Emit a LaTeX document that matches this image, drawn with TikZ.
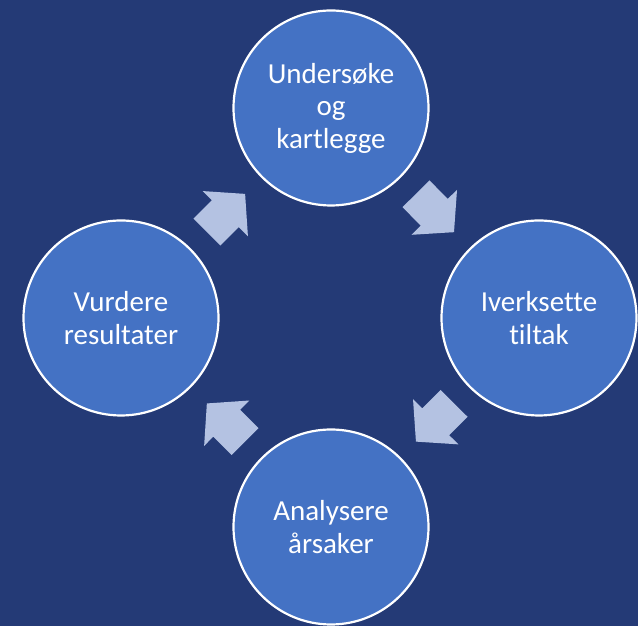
\documentclass[tikz,border=0pt]{standalone}
\usepackage{fontspec}
\setmainfont{Carlito}[Ligatures=NoCommon]
\usetikzlibrary{positioning}

\definecolor{bgblue}{RGB}{36,58,118}
\definecolor{stepblue}{RGB}{68,114,196}
\definecolor{arrowblue}{RGB}{180,194,226}

\tikzset{
  cyclearrow/.pic={
    \fill[arrowblue] (-27,-19) -- (-1,-19) -- (-1,-32) -- (27,0) -- (-1,32) -- (-1,19) -- (-27,19) -- cycle;
  }
}

\begin{document}
\begin{tikzpicture}[
    x=1pt, y=1pt,
    stepcircle/.style={circle, draw=white, line width=2.2pt, fill=stepblue, minimum size=195pt,
      inner sep=0pt, text=white, align=center, font=\fontsize{29}{32.5}\selectfont}
  ]
  % background
  \fill[bgblue] (0,0) rectangle (638,626);
  \useasboundingbox (0,0) rectangle (638,626);

  % the four steps
  \node[stepcircle] (undersoke) at (331,518) {Undersøke\\og\\kartlegge};
  \node[stepcircle] (iverksette) at (539,308) {Iverksette\\tiltak};
  \node[stepcircle] (analysere) at (331,99) {Analysere\\årsaker};
  \node[stepcircle] (vurdere) at (121,308) {Vurdere\\resultater};

  % arrows between the steps
  \path (undersoke.center) -- (iverksette.center) pic[midway, sloped, allow upside down] {cyclearrow};
  \path (iverksette.center) -- (analysere.center) pic[midway, sloped, allow upside down] {cyclearrow};
  \path (analysere.center) -- (vurdere.center) pic[midway, sloped, allow upside down] {cyclearrow};
  \path (vurdere.center) -- (undersoke.center) pic[midway, sloped, allow upside down] {cyclearrow};
\end{tikzpicture}
\end{document}
